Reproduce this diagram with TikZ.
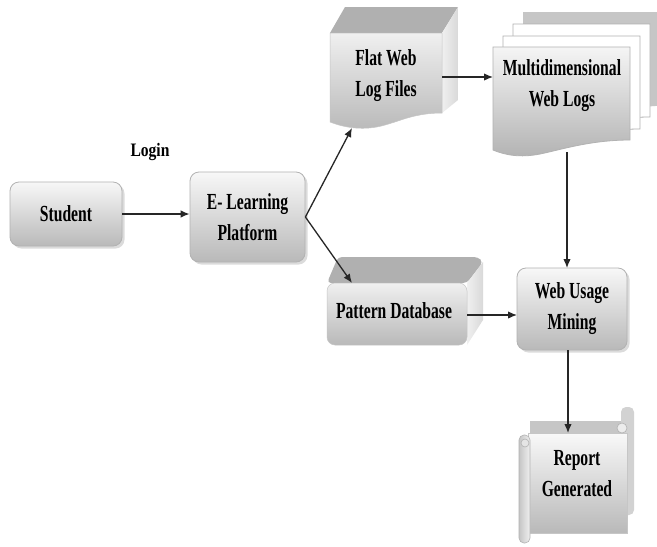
\documentclass[tikz,border=0pt]{standalone}
\usepackage{fontspec}
\setmainfont{Liberation Serif}[FakeStretch=0.68]
\newfontfamily\loginfont{Liberation Serif}[FakeStretch=0.82]
\usetikzlibrary{arrows.meta,shadows}
\newcommand\lbl{\fontsize{23}{31}\selectfont\bfseries}
\tikzset{
  box/.style={draw=gray!60, line width=0.8pt, rounded corners=9pt, top color=gray!6, bottom color=gray!55,
    drop shadow={shadow xshift=2.5pt, shadow yshift=-2.5pt, fill=gray!55}, align=center, font=\lbl},
  txt/.style={align=center, font=\lbl, inner sep=0pt},
  face/.style={fill=gray!62},
  sideface/.style={left color=gray!12, right color=gray!30},
  frontface/.style={top color=gray!12, middle color=gray!4, bottom color=gray!55, draw=gray!45, line width=0.5pt},
  doc/.style={fill=white, draw=gray!60, line width=0.8pt},
  arr/.style={draw=black!85, line width=1.3pt, -{Latex[length=9pt,width=7.5pt]}}
}
\begin{document}
\begin{tikzpicture}[x=1pt,y=-1pt]
\fill[white] (0,0) rectangle (657,547);
\useasboundingbox (0,0) rectangle (657,547);

% Student and E-Learning
\node[box, minimum width=112pt, minimum height=64pt] (student) at (66,214) {Student};
\node[box, minimum width=115pt, minimum height=90pt] (elearn) at (247.5,217) {E- Learning\\Platform};
\node[font=\loginfont\fontsize{19}{22}\selectfont\bfseries, inner sep=0pt] (login) at (150,152) {Login};

% Flat Web Log Files (3D document)
\fill[face] (330,33) -- (345,7) -- (458,7) -- (442,33) -- cycle;
\shade[sideface] (442,33) -- (458,7) -- (458,100) -- (442,113) -- cycle;
\path[frontface] (330,33) -- (442,33) -- (442,113) .. controls (415,113) and (400,121) .. (385,125) .. controls (365,131) and (345,128) .. (330,122) -- cycle;
\node[txt] (flat) at (386,76) {Flat Web\\Log Files};
\coordinate (flatE) at (442,77);
\coordinate (flatB) at (352,128);

% Multidimensional Web Logs (stack)
\begin{scope}[shift={(30,-35)}]
\fill[gray!45] (493,47) -- (640,47) -- (640,140) -- (493,150) -- cycle;
\end{scope}
\begin{scope}[shift={(20,-23)}]
\path[doc] (493,47) -- (630,47) -- (630,140) .. controls (590,140) and (560,150) .. (540,154) .. controls (520,158) and (505,155) .. (493,150) -- cycle;
\end{scope}
\begin{scope}[shift={(10,-11)}]
\path[doc] (493,47) -- (630,47) -- (630,140) .. controls (590,140) and (560,150) .. (540,154) .. controls (520,158) and (505,155) .. (493,150) -- cycle;
\end{scope}
\path[frontface, draw=gray!60, line width=0.8pt, top color=gray!8, middle color=gray!15, bottom color=gray!60] (493,47) -- (630,47) -- (630,140) .. controls (590,140) and (560,150) .. (540,154) .. controls (520,158) and (505,155) .. (493,150) -- cycle;
\node[txt] (multi) at (562,86) {Multidimensional\\Web Logs};
\coordinate (multiW) at (493,77);
\coordinate (multiB) at (567,152);

% Pattern Database (3D box)
\fill[face, rounded corners=4pt] (327,283) -- (338,257) -- (478,257) -- (483,262) -- (467,283) -- cycle;
\shade[sideface] (467,283) -- (483,262) -- (483,320) -- (467,345) -- cycle;
\path[frontface, rounded corners=8pt] (327,283) rectangle (467,345);
\node[txt] (pattern) at (394,311) {Pattern Database};
\coordinate (patternE) at (467,315);
\coordinate (patternT) at (352,283);

% Web Usage Mining
\node[box, minimum width=110pt, minimum height=82pt] (wum) at (572,309) {Web Usage\\Mining};
\coordinate (wumN) at (567,268);
\coordinate (wumW) at (517,315);

% Report Generated (scroll)
\fill[gray!45] (530,421) rectangle (626,434);
\fill[gray!35, rounded corners=5pt] (621,407) rectangle (634,515);
\path[frontface, top color=gray!5, middle color=gray!10, bottom color=gray!55] (528,433) rectangle (627,533);
\path[draw=gray!60, fill=gray!15, line width=0.6pt] (622,428) circle (5pt);
\path[draw=gray!60, left color=gray!45, right color=gray!12, rounded corners=5pt, line width=0.6pt] (519,435) rectangle (530,543);
\path[draw=gray!60, fill=gray!20, line width=0.6pt] (525,443) circle (4pt);
\node[txt] (report) at (577,474) {Report\\Generated};
\coordinate (reportT) at (568,433);

% Connectors
\draw[arr] (student.east) -- (elearn.west |- student.east);
\draw[arr] (elearn.east) -- (flatB);
\draw[arr] (elearn.east) -- (patternT);
\draw[arr] (flatE) -- (multiW);
\draw[arr] (multiB) -- (wumN);
\draw[arr] (patternE) -- (wumW);
\draw[arr] (wum.south -| reportT) -- (reportT);
\end{tikzpicture}
\end{document}
